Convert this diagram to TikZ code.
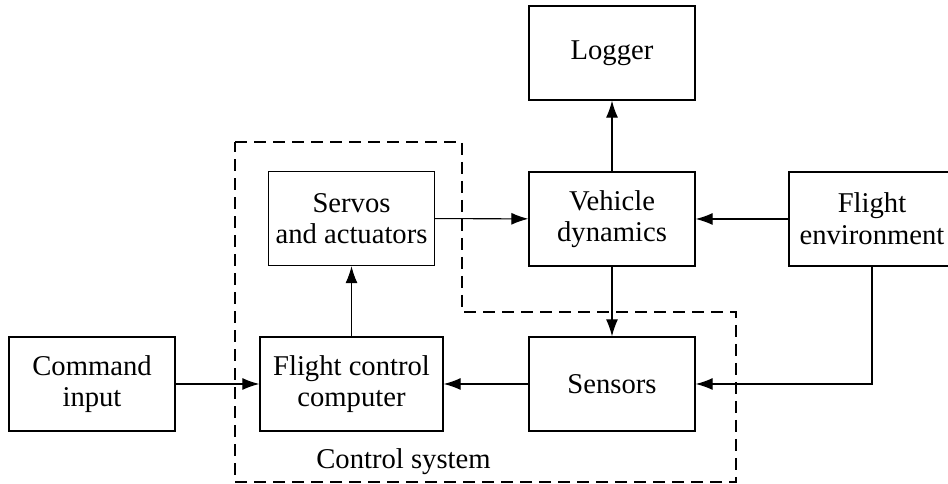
\documentclass[tikz,border=0pt]{standalone}
\usepackage{fontspec}
\setmainfont{Liberation Serif}
\usetikzlibrary{arrows.meta}
\begin{document}
\begin{tikzpicture}
      \tikzset{block/.style={draw, rectangle, line width=0.8pt, minimum width=3.32cm, minimum height=1.88cm, align=center, font=\fontsize{16.3}{18}\selectfont}}
    \useasboundingbox (0,0) rectangle (18.96,9.68);
    \node[block] at (12.24,8.62) (logger) {Logger};
    \node[block] at (12.24,5.30) (vehicle) {Vehicle\\dynamics};
    \node[block] at (17.44,5.30) (env) {Flight\\environment};
    \node[block] at (7.03,5.31) (servos) {Servos\\and actuators};
    \node[block] at (1.84,2.00) (command) {Command\\input};
    \node[block, minimum width=3.66cm] at (7.03,2.00) (fcc) {Flight control\\computer};
    \node[block] at (12.24,2.00) (sensors) {Sensors};

    \draw[dashed, dash pattern=on 2.4mm off 1.4mm, line width=0.7pt] (4.70,6.84) -- (9.24,6.84) -- (9.24,3.44) -- (14.72,3.44) -- (14.72,0.04) -- (4.70,0.04) -- cycle;
    \node[font=\fontsize{16.3}{18}\selectfont] at (8.07,0.44) (ctrl) {Control system};

    	\path[->, > = {Latex[length=3.4mm,width=2.4mm]}, line width=0.6pt] (command) edge (fcc);
    	\path[->, > = {Latex[length=3.4mm,width=2.4mm]}, line width=0.6pt] (fcc) edge (servos);
    	\path[->, > = {Latex[length=3.4mm,width=2.4mm]}, line width=0.6pt] (servos) edge (vehicle);
    	\path[->, > = {Latex[length=3.4mm,width=2.4mm]}, line width=0.6pt] (env) edge (vehicle);
    	\path[->, > = {Latex[length=3.4mm,width=2.4mm]}, line width=0.6pt] (vehicle) edge (logger);
    	\path[->, > = {Latex[length=3.4mm,width=2.4mm]}, line width=0.6pt] (vehicle) edge (sensors);
    	\path[->, > = {Latex[length=3.4mm,width=2.4mm]}, line width=0.6pt] (sensors) edge (fcc);
    	\draw[->, > = {Latex[length=3.4mm,width=2.4mm]}, line width=0.6pt] (env.south) |- (sensors.east);
  \end{tikzpicture}
\end{document}
